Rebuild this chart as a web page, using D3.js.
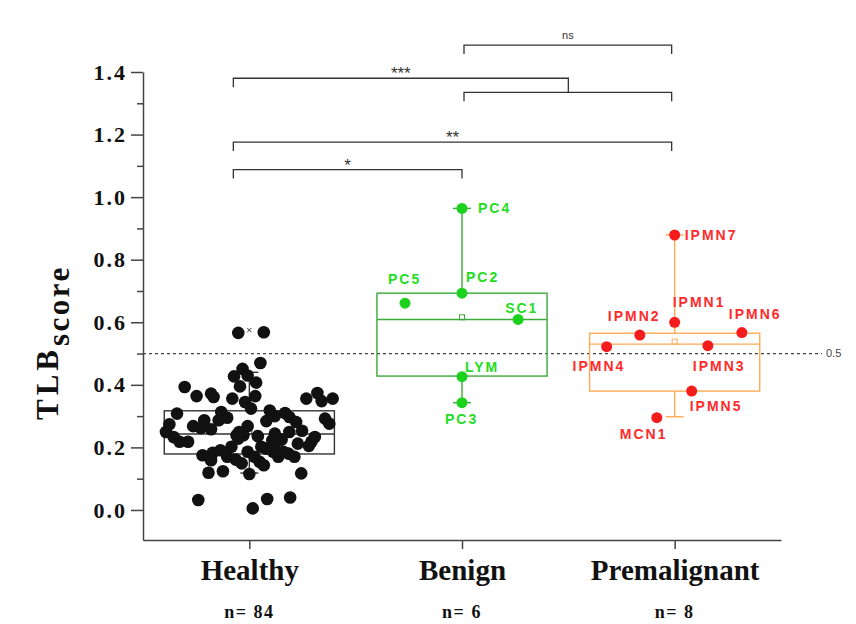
<!DOCTYPE html>
<html>
<head>
<meta charset="utf-8">
<script src="https://cdn.jsdelivr.net/npm/d3@7"></script>
<style>
  body { margin: 0; background: #fff; }
</style>
</head>
<body>
<div id="chart"></div>
<script>
const categories = ["Healthy", "Benign", "Premalignant"];
const groupCounts = [84, 6, 8];

const healthyScores = [
  0.566, 0.568, 0.470, 0.451, 0.427, 0.430, 0.407, 0.395, 0.393, 0.364,
  0.372, 0.361, 0.356, 0.364, 0.356, 0.374, 0.348, 0.356, 0.324, 0.318,
  0.308, 0.313, 0.295, 0.287, 0.310, 0.297, 0.281, 0.292, 0.276, 0.274,
  0.287, 0.268, 0.262, 0.284, 0.268, 0.249, 0.233, 0.218, 0.218, 0.239,
  0.239, 0.236, 0.225, 0.253, 0.249, 0.218, 0.233, 0.212, 0.202, 0.212,
  0.175, 0.183, 0.191, 0.202, 0.170, 0.159, 0.161, 0.149, 0.186, 0.170,
  0.154, 0.143, 0.186, 0.170, 0.186, 0.180, 0.170, 0.196, 0.119, 0.124,
  0.115, 0.117, 0.032, 0.005, 0.035, 0.040, 0.249, 0.244, 0.228, 0.223,
  0.258, 0.300, 0.205, 0.345
];
const healthyJitter = [
  -0.13, 0.17, 0.13, -0.08, -0.18, -0.02, 0.08, -0.11, -0.76, -0.62,
  -0.45, -0.42, -0.20, 0.07, 0.67, 0.80, 0.85, 0.98, 0.02, 0.24,
  -0.85, -0.33, -0.26, -0.36, 0.42, 0.47, 0.55, 0.89, 0.94, -0.94,
  -0.53, -0.66, -0.57, 0.20, -0.02, -0.98, -0.89, -0.82, -0.72, -0.15,
  -0.07, 0.10, 0.38, 0.62, 0.47, 0.73, 0.77, 0.30, 0.14, 0.57,
  -0.55, -0.43, -0.34, -0.21, -0.26, -0.45, -0.16, -0.09, -0.02, 0.06,
  0.12, 0.17, 0.28, 0.34, 0.40, 0.46, 0.53, 0.20, -0.48, -0.31,
  0.00, 0.61, -0.60, 0.04, 0.21, 0.48, -0.12, 0.30, -0.13, 0.27,
  -0.45, 0.30, 0.70, -0.05
];

const benignNames = ["PC4", "PC2", "PC5", "SC1", "LYM", "PC3"];
const benignScores = [0.964, 0.693, 0.661, 0.609, 0.426, 0.343];
const benignJitter = [0, 0, -0.67, 0.66, 0, 0];

const premalNames = ["IPMN7", "IPMN1", "IPMN2", "IPMN6", "IPMN4", "IPMN3", "IPMN5", "MCN1"];
const premalScores = [0.879, 0.600, 0.559, 0.567, 0.522, 0.525, 0.380, 0.295];
const premalJitter = [0, 0, -0.41, 0.79, -0.80, 0.39, 0.20, -0.21];

// box statistics per category
const boxQ1 = [0.179, 0.428, 0.380];
const boxMedian = [0.243, 0.609, 0.530];
const boxQ3 = [0.317, 0.693, 0.565];
const boxMean = [0.250, 0.616, 0.538];
const whiskerLow = [0.118, 0.343, 0.298];
const whiskerHigh = [0.440, 0.964, 0.879];
const healthyMax = 0.575;

const yTicks = [0, 0.2, 0.4, 0.6, 0.8, 1.0, 1.2, 1.4];
const yMinorTicks = [0.1, 0.3, 0.5, 0.7, 0.9, 1.1, 1.3];
const cutoff = 0.5;

// significance brackets (category index from/to, level in score units)
const bracketFrom = [1, 0, 1, 0, 0];
const bracketTo = [2, 1.5, 2, 2, 1];
const bracketLevel = [1.486, 1.380, 1.335, 1.176, 1.088];
const bracketJoin = [null, 1.335, null, null, null];
const bracketLabel = ["ns", "***", "", "**", "*"];

const svgWidth = 856;
const svgHeight = 624;

const svg = d3.select("#chart")
  .append("svg")
  .attr("width", svgWidth)
  .attr("height", svgHeight);

const x = d3.scalePoint()
  .domain(categories)
  .range([143, 781])
  .padding(0.5);

const y = d3.scaleLinear()
  .domain([-0.096, 1.4])
  .range([540, 72]);

const xIdx = d3.scaleLinear()
  .domain([0, 2])
  .range([x(categories[0]), x(categories[2])]);

const boxW = 0.8 * x.step();
const serif = "'Liberation Serif', 'Times New Roman', serif";
const sans = "'Liberation Sans', Arial, sans-serif";

const boxColor = ["#333333", "#3aaa3a", "#ffaa55"];
const dotColor = ["#111111", "#1dd21d", "#f41c1c"];
const textColor = ["#111111", "#22dd22", "#ff2b2b"];

// axes
const leftAxis = d3.axisLeft(y)
  .tickValues(yTicks)
  .tickFormat(d3.format(".1f"))
  .tickSize(12)
  .tickSizeOuter(0)
  .tickPadding(4);

const yAxisG = svg.append("g")
  .attr("transform", "translate(143, 0)")
  .call(leftAxis);

yAxisG.selectAll("text")
  .attr("font-family", serif)
  .attr("font-weight", "bold")
  .attr("font-size", 22)
  .attr("letter-spacing", 2)
  .attr("fill", "#111");

svg.append("g")
  .attr("transform", "translate(143, 0)")
  .call(d3.axisLeft(y).tickValues(yMinorTicks).tickSize(6).tickFormat(""))
  .call(g => g.select(".domain").remove());

const bottomAxis = d3.axisBottom(x)
  .tickSize(9)
  .tickSizeOuter(0)
  .tickPadding(10);

const xAxisG = svg.append("g")
  .attr("transform", "translate(0, 540)")
  .call(bottomAxis);

xAxisG.selectAll("text")
  .attr("font-family", serif)
  .attr("font-weight", "bold")
  .attr("font-size", 29)
  .attr("fill", "#111")
  .attr("dy", "0.71em");

svg.selectAll(".domain, .tick line")
  .attr("stroke", "#444")
  .attr("stroke-width", 1.5);

svg.selectAll(".nLabel")
  .data(categories)
  .enter()
  .append("text")
  .attr("class", "nLabel")
  .attr("x", d => x(d))
  .attr("y", 618)
  .attr("text-anchor", "middle")
  .attr("font-family", serif)
  .attr("font-weight", "bold")
  .attr("font-size", 18)
  .attr("letter-spacing", 1.5)
  .attr("fill", "#111")
  .text((d, i) => `n= ${groupCounts[i]}`);

// y label with subscript
const yLabel = svg.append("text")
  .attr("transform", "translate(58, 420) rotate(-90)")
  .attr("font-family", serif)
  .attr("font-weight", "bold")
  .attr("fill", "#111");
yLabel.append("tspan")
  .attr("font-size", 31)
  .attr("letter-spacing", 4)
  .text("TLB");
yLabel.append("tspan")
  .attr("font-size", 31)
  .attr("letter-spacing", 2.5)
  .attr("dy", 11)
  .text("score");

// cutoff line
svg.append("line")
  .attr("x1", 143)
  .attr("x2", 822)
  .attr("y1", y(cutoff))
  .attr("y2", y(cutoff))
  .attr("stroke", "#444")
  .attr("stroke-width", 1.3)
  .attr("stroke-dasharray", "3,3");

svg.append("text")
  .attr("x", 826)
  .attr("y", y(cutoff))
  .attr("dy", "0.35em")
  .attr("font-family", sans)
  .attr("font-size", 11)
  .attr("fill", "#444")
  .text("0.5");

// boxes and whiskers
categories.forEach(function (cat, i) {
  const cx = x(cat);
  const g = svg.append("g")
    .attr("stroke", boxColor[i])
    .attr("stroke-width", 1.4)
    .attr("fill", "none");

  g.append("line")
    .attr("x1", cx).attr("x2", cx)
    .attr("y1", y(whiskerHigh[i])).attr("y2", y(boxQ3[i]));
  g.append("line")
    .attr("x1", cx).attr("x2", cx)
    .attr("y1", y(boxQ1[i])).attr("y2", y(whiskerLow[i]));
  [whiskerHigh[i], whiskerLow[i]].forEach(function (v) {
    g.append("line")
      .attr("x1", cx - 9).attr("x2", cx + 9)
      .attr("y1", y(v)).attr("y2", y(v));
  });

  g.append("rect")
    .attr("x", cx - boxW / 2)
    .attr("y", y(boxQ3[i]))
    .attr("width", boxW)
    .attr("height", y(boxQ1[i]) - y(boxQ3[i]));

  g.append("line")
    .attr("x1", cx - boxW / 2).attr("x2", cx + boxW / 2)
    .attr("y1", y(boxMedian[i])).attr("y2", y(boxMedian[i]));

  g.append("rect")
    .attr("x", cx - 2.5)
    .attr("y", y(boxMean[i]) - 2.5)
    .attr("width", 5)
    .attr("height", 5)
    .attr("stroke-width", 1);
});

// healthy max marker
svg.append("path")
  .attr("d", d3.symbol().type(d3.symbolX).size(14)())
  .attr("transform", `translate(${x("Healthy")}, ${y(healthyMax)})`)
  .attr("stroke", "#333")
  .attr("stroke-width", 1);

// points
svg.selectAll(".healthy")
  .data(healthyScores)
  .enter()
  .append("circle")
  .attr("class", "healthy")
  .attr("cx", (d, i) => x("Healthy") + healthyJitter[i] * boxW / 2)
  .attr("cy", d => y(d))
  .attr("r", 6.3)
  .attr("fill", dotColor[0]);

const labelNudge = {
  PC4: [16, 5], PC2: [4, -11], PC5: [-17, -19], SC1: [-13, -6], LYM: [3, -5], PC3: [-17, 21],
  IPMN7: [10, 5], IPMN1: [-2, -15], IPMN2: [-32, -14], IPMN6: [-13, -14],
  IPMN4: [-34, 24], IPMN3: [-15, 25], IPMN5: [-2, 20], MCN1: [-37, 21]
};

function drawNamed(cat, names, scores, jitter, ci) {
  const cx = x(cat);
  const pts = names.map((n, i) => ({
    name: n,
    px: cx + jitter[i] * boxW / 2,
    py: y(scores[i])
  }));

  svg.selectAll(".pt" + ci)
    .data(pts)
    .enter()
    .append("circle")
    .attr("class", "pt" + ci)
    .attr("cx", d => d.px)
    .attr("cy", d => d.py)
    .attr("r", 5.5)
    .attr("fill", dotColor[ci]);

  svg.selectAll(".lbl" + ci)
    .data(pts)
    .enter()
    .append("text")
    .attr("class", "lbl" + ci)
    .attr("x", d => d.px + labelNudge[d.name][0])
    .attr("y", d => d.py + labelNudge[d.name][1])
    .attr("font-family", sans)
    .attr("font-weight", "bold")
    .attr("font-size", 14)
    .attr("letter-spacing", 2)
    .attr("fill", textColor[ci])
    .text(d => d.name);
}

drawNamed("Benign", benignNames, benignScores, benignJitter, 1);
drawNamed("Premalignant", premalNames, premalScores, premalJitter, 2);

// significance brackets
bracketLevel.forEach(function (lvl, i) {
  const x1 = xIdx(bracketFrom[i]) - (bracketFrom[i] === 0 ? 16 : 0) + (bracketFrom[i] === 1 ? 2 : 0);
  const x2 = xIdx(bracketTo[i]) - (bracketTo[i] === 2 ? 3 : 0);
  const yy = y(lvl);
  const yRight = bracketJoin[i] === null ? yy + 9 : y(bracketJoin[i]);

  svg.append("path")
    .attr("d", `M${x1},${yy + 9}V${yy}H${x2}V${yRight}`)
    .attr("fill", "none")
    .attr("stroke", "#333")
    .attr("stroke-width", 1.3);

  if (bracketLabel[i]) {
    const isNs = bracketLabel[i] === "ns";
    svg.append("text")
      .attr("x", (x1 + x2) / 2)
      .attr("y", isNs ? yy - 6 : yy + 1)
      .attr("text-anchor", "middle")
      .attr("font-family", sans)
      .attr("font-size", isNs ? 11 : 17)
      .attr("fill", "#333")
      .text(bracketLabel[i]);
  }
});
</script>
</body>
</html>
